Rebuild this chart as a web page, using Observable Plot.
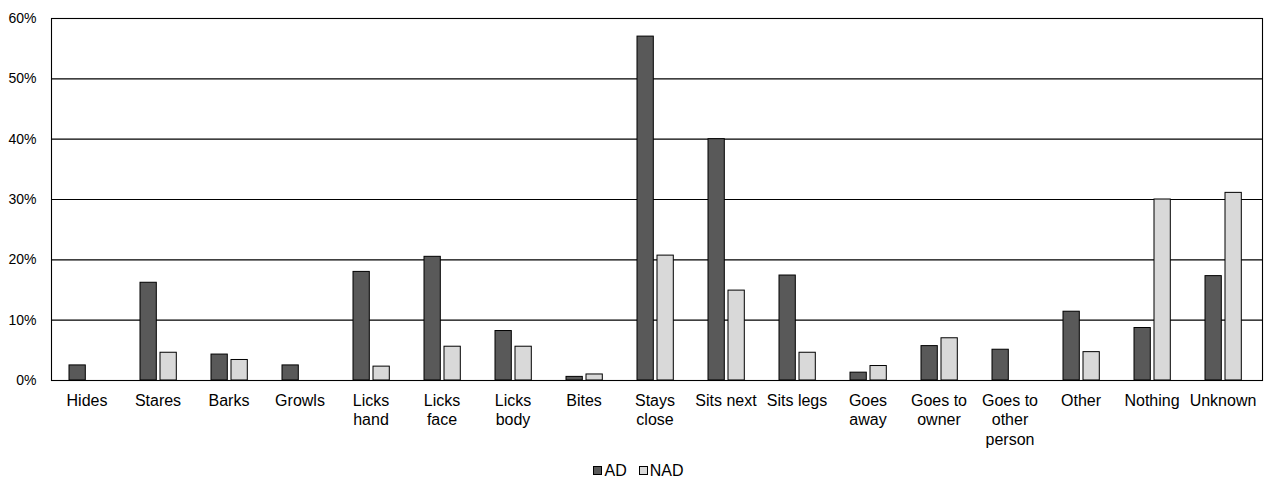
<!DOCTYPE html>
<html><head><meta charset="utf-8">
<script src="https://cdn.jsdelivr.net/npm/d3@7"></script>
<script src="https://cdn.jsdelivr.net/npm/@observablehq/plot@0.6"></script>
<style>
body{margin:0;background:#fff;font-family:"Liberation Sans",Arial,sans-serif;}
#legend{display:flex;justify-content:center;align-items:center;gap:12px;font-size:16px;height:21px;line-height:21px;padding-left:10px;padding-top:2px;}
.item{display:flex;align-items:center;gap:2px;}
.sw{width:7px;height:7px;border:1px solid #000;display:inline-block;}
</style></head>
<body>
<div id="chart"></div>
<div id="legend"></div>
<script>
const categories = ["Hides","Stares","Barks","Growls","Licks hand","Licks face","Licks body","Bites","Stays close","Sits next","Sits legs","Goes away","Goes to owner","Goes to other person","Other","Nothing","Unknown"];
const tickLabels = ["Hides","Stares","Barks","Growls","Licks\nhand","Licks\nface","Licks\nbody","Bites","Stays\nclose","Sits next","Sits legs","Goes\naway","Goes to\nowner","Goes to\nother\nperson","Other","Nothing","Unknown"];
const adValues  = [2.5,16.2,4.3,2.5,18.0,20.5,8.2,0.6,57.0,40.0,17.4,1.3,5.7,5.1,11.4,8.7,17.3];
const nadValues = [null,4.6,3.4,null,2.3,5.6,5.6,1.0,20.7,14.9,4.6,2.4,7.0,null,4.7,30.0,31.1];
const seriesNames = ["AD","NAD"];
const seriesColors = ["#595959","#d9d9d9"];
const yTicks = [0,10,20,30,40,50,60];

const rows = categories.map((c,i)=>({cat:c, ad:adValues[i], nad:nadValues[i]}));
const labelOf = new Map(categories.map((c,i)=>[c,tickLabels[i]]));

const chart = Plot.plot({
  width: 1267, height: 458,
  marginLeft: 51, marginRight: 5, marginTop: 18, marginBottom: 78,
  style: {fontFamily: "'Liberation Sans', Arial, sans-serif", color: "#000", background: "#fff"},
  x: {domain: categories, padding: 0, axis: null},
  y: {domain: [0,60], axis: null},
  marks: [
    Plot.ruleY(yTicks, {stroke: "#000", strokeWidth: 1.1}),
    Plot.barY(rows.filter(d=>d.ad!=null), {x:"cat", y:"ad", fill: seriesColors[0], stroke:"#000", strokeWidth:1, insetLeft:16, insetRight:38.7}),
    Plot.barY(rows.filter(d=>d.nad!=null), {x:"cat", y:"nad", fill: seriesColors[1], stroke:"#000", strokeWidth:1, insetLeft:36, insetRight:18.7}),
    Plot.frame({stroke:"#000", strokeWidth:1.1}),
    Plot.axisY({ticks: yTicks, tickFormat: d=>d+"%", tickSize:0, tickPadding:15, fontSize:14}),
    Plot.axisX({tickFormat: d=>labelOf.get(d), tickSize:0, tickPadding:12, dx:-2, fontSize:16, lineHeight:1.2, label:null})
  ]
});
document.getElementById("chart").appendChild(chart);

const legend = document.getElementById("legend");
seriesNames.forEach((n,i)=>{
  const it = document.createElement("span"); it.className="item";
  const sw = document.createElement("span"); sw.className="sw"; sw.style.background=seriesColors[i];
  const t = document.createElement("span"); t.textContent=n;
  it.appendChild(sw); it.appendChild(t); legend.appendChild(it);
});
</script>
</body></html>
